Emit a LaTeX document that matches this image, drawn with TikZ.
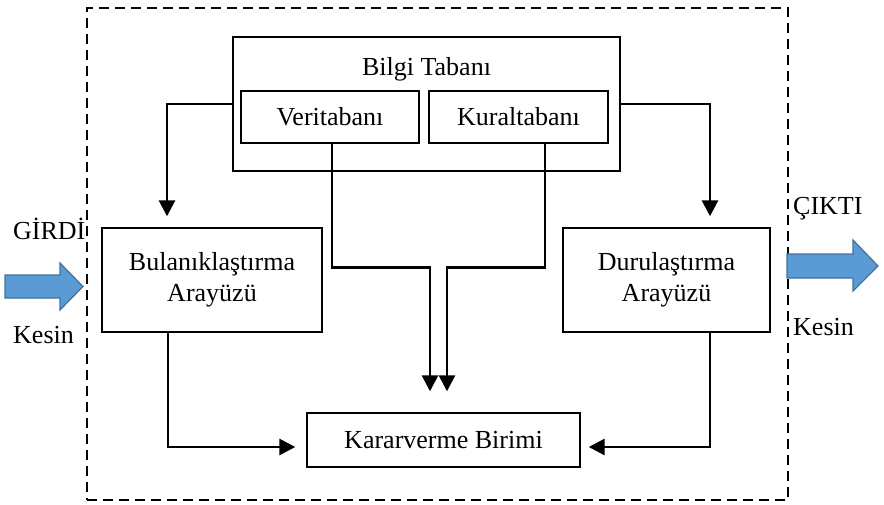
\documentclass[tikz,border=0pt]{standalone}
\usepackage{fontspec}
\setmainfont{Liberation Serif}
\usetikzlibrary{arrows.meta,calc}
\definecolor{arrowblue}{RGB}{91,155,213}
\definecolor{arrowedge}{RGB}{65,113,156}
\begin{document}
\begin{tikzpicture}[x=1pt,y=-1pt,
  blk/.style={draw, line width=1.4pt, inner sep=0pt, align=center, font=\fontsize{26}{31}\selectfont},
  conn/.style={line width=2.8pt, -{Triangle[width=16pt,length=16pt]}},
  lbl/.style={inner sep=0pt, anchor=base west, font=\fontsize{26}{31}\selectfont},
  fatarrow/.style={fill=arrowblue, draw=arrowedge, line width=1.2pt},
  sysbox/.style={draw, line width=2.6pt, dash pattern=on 10pt off 6pt, inner sep=0pt}]
\useasboundingbox (0,0) rectangle (884,504);
\node[sysbox, minimum width=701pt, minimum height=492pt] (sys) at (437.5,254) {};
\node[blk, minimum width=387pt, minimum height=134pt] (bilgi) at (426.5,104) {};
\node[lbl, anchor=base] (bilgiT) at (426.5,75) {Bilgi Tabanı};
\node[blk, minimum width=178pt, minimum height=52pt] (veri) at (330,117) {Veritabanı};
\node[blk, minimum width=179pt, minimum height=52pt] (kural) at (518.5,117) {Kuraltabanı};
\node[blk, minimum width=220pt, minimum height=104pt] (bul) at (212,280) {Bulanıklaştırma\\Arayüzü};
\node[blk, minimum width=207pt, minimum height=104pt] (dur) at (666.5,280) {Durulaştırma\\Arayüzü};
\node[blk, minimum width=273pt, minimum height=54pt] (karar) at (443.5,440) {Kararverme Birimi};

\draw[conn, shorten >=11pt] (bilgi.west) -| ([xshift=-45pt]bul.north);
\draw[conn, shorten >=11pt] (bilgi.east) -| ([xshift=43.5pt]dur.north);
\draw[conn, shorten >=21pt] ([xshift=2pt]veri.south) -- ++(0,124) -| ([xshift=-13.5pt]karar.north);
\draw[conn, shorten >=21pt] ([xshift=26.5pt]kural.south) -- ++(0,124) -| ([xshift=3.5pt]karar.north);
\draw[conn, shorten >=11pt] ([xshift=-44pt]bul.south) |- ([yshift=-7pt]karar.west);
\draw[conn, shorten >=8pt] ([xshift=43.5pt]dur.south) |- ([yshift=-7pt]karar.east);

\draw[fatarrow] (5,275) -- (60,275) -- (60,263) -- (83,286.5) -- (60,310) -- (60,298) -- (5,298) -- cycle;
\draw[fatarrow] (787,254) -- (853,254) -- (853,240) -- (878,266) -- (853,291) -- (853,278) -- (787,278) -- cycle;

\node[lbl] (girdi) at (13,239) {GİRDİ};
\node[lbl] (kesinL) at (13,343) {Kesin};
\node[lbl] (cikti) at (793,214) {ÇIKTI};
\node[lbl] (kesinR) at (793,335) {Kesin};
\end{tikzpicture}
\end{document}
